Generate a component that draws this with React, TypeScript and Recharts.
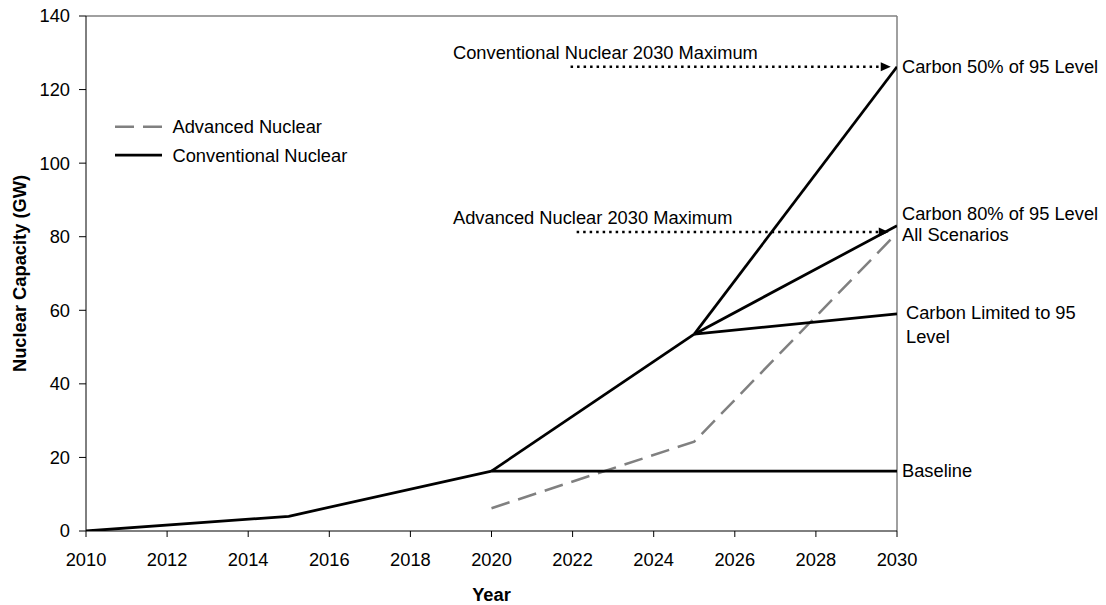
import React from 'react';
import { LineChart, Line, XAxis, YAxis, ReferenceLine, ReferenceDot, Legend } from 'recharts';

const FONT = "'Liberation Sans', Arial, Helvetica, sans-serif";
const FS = 18.3;

// ---- data ----
const YEAR_TICKS = [2010, 2012, 2014, 2016, 2018, 2020, 2022, 2024, 2026, 2028, 2030];
const CAPACITY_TICKS = [0, 20, 40, 60, 80, 100, 120, 140];

const advancedNuclear = [
  { year: 2020, gw: 6.2 },
  { year: 2025, gw: 24.3 },
  { year: 2030, gw: 81 },
];
const conventionalBaseline = [
  { year: 2010, gw: 0 },
  { year: 2015, gw: 4 },
  { year: 2020, gw: 16.3 },
  { year: 2030, gw: 16.3 },
];
const conventionalGrowth = [
  { year: 2020, gw: 16.3 },
  { year: 2025, gw: 53.5 },
];
const carbon50 = [
  { year: 2025, gw: 53.5 },
  { year: 2030, gw: 126.2 },
];
const carbon80 = [
  { year: 2025, gw: 53.5 },
  { year: 2030, gw: 83 },
];
const carbonLimited = [
  { year: 2025, gw: 53.5 },
  { year: 2030, gw: 59 },
];
const conventionalMax = [
  { year: 2021.95, gw: 126.2 },
  { year: 2029.6, gw: 126.2 },
];
const advancedMax = [
  { year: 2022.1, gw: 81.3 },
  { year: 2029.55, gw: 81.3 },
];

const rightLabels = [
  { year: 2030, gw: 126.2, text: 'Carbon 50% of 95 Level', offset: 5 },
  { year: 2030, gw: 86.2, text: 'Carbon 80% of 95 Level', offset: 5 },
  { year: 2030, gw: 80.7, text: 'All Scenarios', offset: 5 },
  { year: 2030, gw: 59.3, text: 'Carbon Limited to 95', offset: 9 },
  { year: 2030, gw: 52.8, text: 'Level', offset: 9 },
  { year: 2030, gw: 16.5, text: 'Baseline', offset: 5 },
];
const maxLabels = [
  { year: 2019.05, gw: 130.2, text: 'Conventional Nuclear 2030 Maximum' },
  { year: 2019.05, gw: 85.1, text: 'Advanced Nuclear 2030 Maximum' },
];

const arrowDot = (len: number) => (p: any) => {
  if (p.index !== len - 1) return <g key={`d${p.index}`} />;
  const { cx, cy } = p;
  return (
    <path
      key={`d${p.index}`}
      d={`M${cx},${cy - 4.5}L${cx + 10},${cy}L${cx},${cy + 4.5}Z`}
      fill="#000"
      stroke="none"
    />
  );
};

const LegendContent = (props: any) => {
  const items = (props.payload || []).filter((e: any) => e.type !== 'none');
  return (
    <svg width={280} height={64} style={{ display: 'block', overflow: 'visible' }}>
      {items.map((e: any, i: number) => {
        const y = 16.7 + i * 28.5;
        return (
          <g key={e.value}>
            <line
              x1={5}
              x2={52}
              y1={y}
              y2={y}
              stroke={e.color}
              strokeWidth={e.payload?.strokeWidth ?? 2.5}
              strokeDasharray={e.payload?.strokeDasharray}
            />
            <text x={62.5} y={y} dy="0.355em" fontSize={FS} fontFamily={FONT} fill="#000">
              {e.value}
            </text>
          </g>
        );
      })}
    </svg>
  );
};

export default function App() {
  const black = { stroke: '#000', strokeWidth: 2.75, dot: false, isAnimationActive: false } as const;
  return (
    <div style={{ position: 'absolute', left: 0, top: 0, width: 1106, height: 605, background: '#fff' }}>
      <LineChart
        width={1106}
        height={605}
        margin={{ top: 16, right: 209, bottom: 0, left: 0 }}
        style={{ fontFamily: FONT }}
      >
        <XAxis
          type="number"
          dataKey="year"
          domain={[2010, 2030]}
          ticks={YEAR_TICKS}
          allowDataOverflow
          height={74}
          tickSize={6}
          tickMargin={16}
          stroke="#000"
          tick={{ fill: '#000', fontSize: FS, fontFamily: FONT }}
          label={{
            content: (p: any) => (
              <text
                x={p.viewBox.x + p.viewBox.width / 2}
                y={p.viewBox.y + p.viewBox.height - 4}
                textAnchor="middle"
                fontSize={FS}
                fontWeight="bold"
                fontFamily={FONT}
                fill="#000"
              >
                Year
              </text>
            ),
          }}
        />
        <YAxis
          type="number"
          dataKey="gw"
          domain={[0, 140]}
          ticks={CAPACITY_TICKS}
          allowDataOverflow
          width={86}
          tickSize={7}
          tickMargin={9}
          stroke="#000"
          tick={{ fill: '#000', fontSize: FS, fontFamily: FONT }}
          label={{
            content: (p: any) => {
              const cx = p.viewBox.x + 26;
              const cy = p.viewBox.y + p.viewBox.height / 2;
              return (
                <text
                  x={cx}
                  y={cy}
                  transform={`rotate(-90, ${cx}, ${cy})`}
                  textAnchor="middle"
                  fontSize={FS}
                  fontWeight="bold"
                  fontFamily={FONT}
                  fill="#000"
                >
                  Nuclear Capacity (GW)
                </text>
              );
            },
          }}
        />
        <ReferenceLine y={140} stroke="#808080" strokeWidth={1.5} />
        <ReferenceLine x={2030} stroke="#808080" strokeWidth={1.5} />

        <Line
          data={advancedNuclear}
          dataKey="gw"
          name="Advanced Nuclear"
          stroke="#808080"
          strokeWidth={2.5}
          strokeDasharray="19 9"
          dot={false}
          legendType="line"
          isAnimationActive={false}
        />
        <Line data={conventionalBaseline} dataKey="gw" name="Conventional Nuclear" legendType="line" {...black} />
        <Line data={conventionalGrowth} dataKey="gw" name="growth" legendType="none" {...black} />
        <Line data={carbon50} dataKey="gw" name="c50" legendType="none" {...black} />
        <Line data={carbon80} dataKey="gw" name="c80" legendType="none" {...black} />
        <Line data={carbonLimited} dataKey="gw" name="climited" legendType="none" {...black} />
        <Line
          data={conventionalMax}
          dataKey="gw"
          name="convMax"
          legendType="none"
          stroke="#000"
          strokeWidth={2.5}
          strokeDasharray="2.5 4"
          dot={arrowDot(conventionalMax.length)}
          isAnimationActive={false}
        />
        <Line
          data={advancedMax}
          dataKey="gw"
          name="advMax"
          legendType="none"
          stroke="#000"
          strokeWidth={2.5}
          strokeDasharray="2.5 4"
          dot={arrowDot(advancedMax.length)}
          isAnimationActive={false}
        />

        {rightLabels.map((l) => (
          <ReferenceDot
            key={l.text}
            x={l.year}
            y={l.gw}
            r={0}
            fill="none"
            stroke="none"
            label={{ value: l.text, position: 'right', offset: l.offset, fill: '#000', fontSize: FS, fontFamily: FONT }}
          />
        ))}
        {maxLabels.map((l) => (
          <ReferenceDot
            key={l.text}
            x={l.year}
            y={l.gw}
            r={0}
            fill="none"
            stroke="none"
            label={{ value: l.text, position: 'right', offset: 0, fill: '#000', fontSize: FS, fontFamily: FONT }}
          />
        ))}

        <Legend
          layout="vertical"
          align="center"
          verticalAlign="middle"
          content={<LegendContent />}
          wrapperStyle={{ left: 110, top: 110, width: 280, height: 64 }}
        />
      </LineChart>
    </div>
  );
}
